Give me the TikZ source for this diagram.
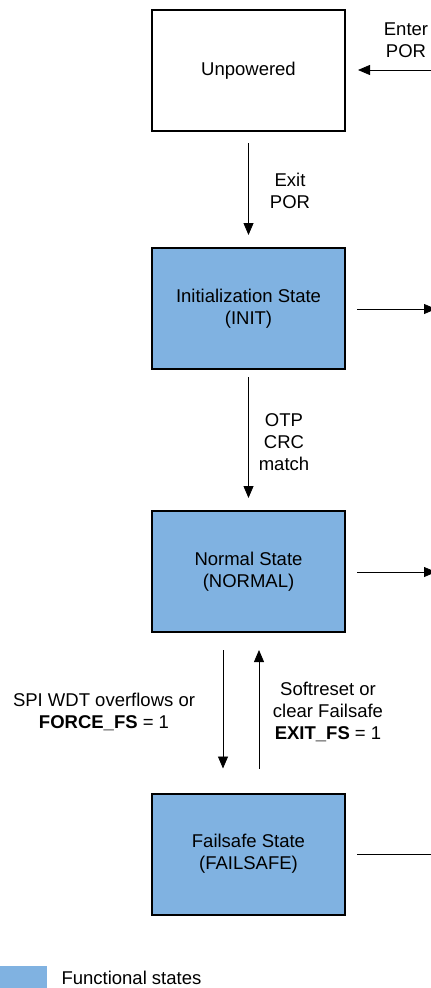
\documentclass[tikz,border=0pt]{standalone}
\usepackage{fontspec}
\setmainfont{Liberation Sans}
\usetikzlibrary{arrows.meta}
\definecolor{fsblue}{RGB}{128,178,225}
\tikzset{
  state/.style={draw=black, line width=2pt, minimum width=193pt, minimum height=121pt, align=center, inner sep=0pt},
  func/.style={state, fill=fsblue},
  trans/.style={-{Triangle[length=12pt,width=10pt]}, line width=0.8pt},
  cond/.style={align=center}
}
\begin{document}
\begin{tikzpicture}[x=1pt,y=-1pt,font=\fontsize{18.5}{22}\selectfont]
			\useasboundingbox (0,0) rectangle (431,988);
			\node[state] (unp) at (248.5,70.5) {Unpowered};
			\node[func] (init) at (248.5,308.5) {Initialization State\\(INIT)};
			\node[func] (norm) at (248.5,571.5) {Normal State\\(NORMAL)};
			\node[func] (fs) at (248.5,854) {Failsafe State\\(FAILSAFE)};
			\coordinate (por) at (431,70);
			\coordinate (initout) at (436,309);
			\coordinate (normout) at (436,572);
			\coordinate (fsout) at (431,854);
			\draw[trans,shorten >=12pt] (por) -- (unp.east |- por);
			\node[cond] at (406,40) {Enter\\POR};
			\draw[trans,shorten <=11pt,shorten >=12pt] (unp.south) -- (init.north);
			\node[cond] at (290,191) {Exit\\POR};
			\draw[trans,shorten <=7pt,shorten >=12pt] (init.south) -- (norm.north);
			\node[cond] at (284,442) {OTP\\CRC\\match};
			\draw[trans,shorten <=11pt] (init.east |- initout) -- (initout);
			\draw[trans,shorten <=11pt] (norm.east |- normout) -- (normout);
			\draw[line width=0.8pt,shorten <=11pt] (fs.east |- fsout) -- (fsout);
			\draw[trans,shorten <=17pt,shorten >=24pt] ([xshift=-25.5pt]norm.south) -- ([xshift=-25.5pt]fs.north);
			\draw[trans,shorten <=24pt,shorten >=17pt] ([xshift=10.5pt]fs.north) -- ([xshift=10.5pt]norm.south);
			\node[cond] at (104,712) {SPI WDT overflows or\\\textbf{FORCE\_FS} = 1};
			\node[cond] at (328,712) {Softreset or\\clear Failsafe\\\textbf{EXIT\_FS} = 1};
			\fill[fsblue] (0,966) rectangle (47,988);
			\node[anchor=west] at (58,978) {Functional states};
		\end{tikzpicture}
\end{document}
